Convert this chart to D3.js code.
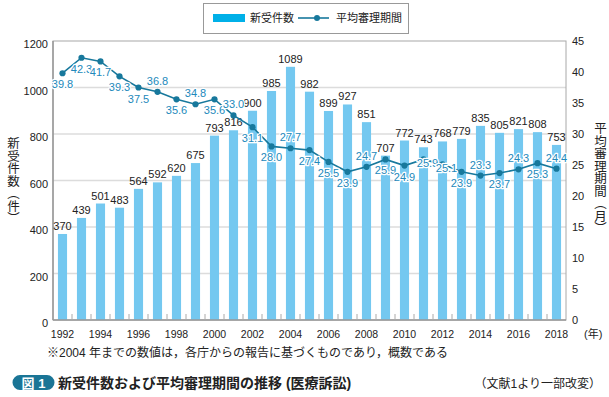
<!DOCTYPE html>
<html>
<head>
<meta charset="utf-8">
<script src="https://cdn.jsdelivr.net/npm/d3@7"></script>
<style>
  body { margin: 0; background: #fff; }
  svg { display: block; font-family: "Liberation Sans", "Noto Sans CJK JP", sans-serif; }
</style>
</head>
<body>
<div id="chart"></div>
<script>
var years = [1992,1993,1994,1995,1996,1997,1998,1999,2000,2001,2002,2003,2004,2005,
             2006,2007,2008,2009,2010,2011,2012,2013,2014,2015,2016,2017,2018];
var cases = [370,439,501,483,564,592,620,675,793,816,900,985,1089,982,
             899,927,851,707,772,743,768,779,835,805,821,808,753];
var months = [39.8,42.3,41.7,39.3,37.5,36.8,35.6,34.8,35.6,33.0,31.1,28.0,27.7,27.4,
              25.5,23.9,24.7,25.9,24.9,25.9,25.1,23.9,23.3,23.7,24.3,25.3,24.4];
// where each period label sits relative to its dot
var labelSide = ["b","b","b","b","b","a","b","a","b","a","b","b","a","b",
                 "b","b","a","b","b","m","m","b","a","b","a","b","a"];
var leftTicks = [0,200,400,600,800,1000,1200];
var rightTicks = [0,5,10,15,20,25,30,35,40,45];
var yearLabels = years.filter(function(y) { return y % 2 === 0; });

var width = 609,
    height = 397;

var barColor = "#74c8f0",
    swatchColor = "#00b0e8",
    lineColor = "#17789c",
    labelColor = "#2289bb";

var svg = d3.select("#chart")
    .append("svg")
    .attr("width", width)
    .attr("height", height);

var plot = { left: 53, right: 566, top: 41, bottom: 320 };

var x = d3.scaleBand()
    .domain(years)
    .range([plot.left, plot.right])
    .paddingInner(0.52)
    .paddingOuter(0.26);

var y = d3.scaleLinear().domain([0, 1200]).range([plot.bottom, plot.top]);
var y2 = d3.scaleLinear().domain([0, 45]).range([plot.bottom, plot.top]);

function cx(d) { return x(d) + x.bandwidth() / 2; }

// grid
svg.append("g")
  .selectAll("line")
    .data(leftTicks.filter(function(t) { return t > 0 && t < 1200; }))
  .enter().append("line")
    .attr("x1", plot.left).attr("x2", plot.right)
    .attr("y1", function(d) { return y(d); })
    .attr("y2", function(d) { return y(d); })
    .attr("stroke", "#dcdcdc")
    .attr("stroke-width", 1.5);

// frame
svg.append("rect")
    .attr("x", plot.left).attr("y", plot.top)
    .attr("width", plot.right - plot.left)
    .attr("height", plot.bottom - plot.top)
    .attr("fill", "none")
    .attr("stroke", "#a8a8a8")
    .attr("stroke-width", 1);

// bars
svg.append("g")
  .selectAll("rect")
    .data(years)
  .enter().append("rect")
    .attr("x", function(d) { return x(d); })
    .attr("width", x.bandwidth())
    .attr("y", function(d, i) { return y(cases[i]); })
    .attr("height", function(d, i) { return plot.bottom - y(cases[i]); })
    .attr("fill", barColor);

// left and bottom axis lines
svg.append("line")
    .attr("x1", plot.left).attr("x2", plot.left)
    .attr("y1", plot.top).attr("y2", plot.bottom)
    .attr("stroke", "#999").attr("stroke-width", 1.5);
svg.append("line")
    .attr("x1", plot.left).attr("x2", plot.right)
    .attr("y1", plot.bottom).attr("y2", plot.bottom)
    .attr("stroke", "#999").attr("stroke-width", 1.5);

// small ticks between bars
svg.append("g")
  .selectAll("line")
    .data(years.slice(0, -1))
  .enter().append("line")
    .attr("x1", function(d) { return cx(d) + x.step() / 2; })
    .attr("x2", function(d) { return cx(d) + x.step() / 2; })
    .attr("y1", plot.bottom - 6).attr("y2", plot.bottom)
    .attr("stroke", "#aaa")
    .attr("stroke-width", 1);

// bar values
svg.append("g")
  .selectAll("text")
    .data(years)
  .enter().append("text")
    .attr("x", function(d) { return cx(d); })
    .attr("y", function(d, i) { return y(cases[i]) - 4; })
    .attr("text-anchor", "middle")
    .attr("font-size", 11)
    .attr("fill", "#222")
    .text(function(d, i) { return cases[i]; });

// line
var line = d3.line()
    .x(function(d, i) { return cx(years[i]); })
    .y(function(d) { return y2(d); });

svg.append("path")
    .datum(months)
    .attr("d", line)
    .attr("fill", "none")
    .attr("stroke", lineColor)
    .attr("stroke-width", 1.6);

svg.append("g")
  .selectAll("circle")
    .data(months)
  .enter().append("circle")
    .attr("cx", function(d, i) { return cx(years[i]); })
    .attr("cy", function(d) { return y2(d); })
    .attr("r", 3.1)
    .attr("fill", lineColor);

var sideOffset = { a: -7, b: 15, m: 8 };
svg.append("g")
  .selectAll("text")
    .data(months)
  .enter().append("text")
    .attr("x", function(d, i) { return cx(years[i]) + (labelSide[i] === "m" ? 4 : 0); })
    .attr("y", function(d, i) { return y2(d) + sideOffset[labelSide[i]]; })
    .attr("text-anchor", "middle")
    .attr("font-size", 11)
    .attr("fill", labelColor)
    .attr("stroke", "#fff")
    .attr("stroke-width", 2.5)
    .attr("stroke-linejoin", "round")
    .attr("paint-order", "stroke")
    .text(function(d) { return d.toFixed(1); });

// left axis labels
svg.append("g")
  .selectAll("text")
    .data(leftTicks)
  .enter().append("text")
    .attr("x", plot.left - 5)
    .attr("y", function(d) { return y(d) + 7; })
    .attr("text-anchor", "end")
    .attr("font-size", 11)
    .attr("fill", "#222")
    .text(function(d) { return d; });

// right axis labels
svg.append("g")
  .selectAll("text")
    .data(rightTicks)
  .enter().append("text")
    .attr("x", plot.right + 6)
    .attr("y", function(d) { return y2(d) + 4; })
    .attr("text-anchor", "start")
    .attr("font-size", 11)
    .attr("fill", "#222")
    .text(function(d) { return d; });

// year labels
svg.append("g")
  .selectAll("text")
    .data(yearLabels)
  .enter().append("text")
    .attr("x", function(d) { return cx(d); })
    .attr("y", 338)
    .attr("text-anchor", "middle")
    .attr("font-size", 10.5)
    .attr("fill", "#222")
    .text(function(d) { return d; });

svg.append("text")
    .attr("x", 584).attr("y", 338)
    .attr("font-size", 11)
    .attr("fill", "#222")
    .text("(年)");

// axis titles (vertical)
svg.append("text")
    .attr("x", 12).attr("y", 137)
    .style("writing-mode", "vertical-rl")
    .attr("font-size", 12.5)
    .attr("fill", "#222")
    .text("新受件数（件）");

svg.append("text")
    .attr("x", 599).attr("y", 122)
    .style("writing-mode", "vertical-rl")
    .attr("font-size", 12.5)
    .attr("fill", "#222")
    .text("平均審理期間（月）");

// legend
var legend = svg.append("g");
legend.append("rect")
    .attr("x", 203.5).attr("y", 3.5)
    .attr("width", 205).attr("height", 30)
    .attr("fill", "#fff")
    .attr("stroke", "#999");
legend.append("rect")
    .attr("x", 213).attr("y", 14)
    .attr("width", 32).attr("height", 8)
    .attr("fill", swatchColor);
legend.append("text")
    .attr("x", 250).attr("y", 22)
    .attr("font-size", 11)
    .attr("fill", "#222")
    .text("新受件数");
legend.append("line")
    .attr("x1", 298).attr("x2", 329)
    .attr("y1", 18).attr("y2", 18)
    .attr("stroke", lineColor)
    .attr("stroke-width", 1.6);
legend.append("circle")
    .attr("cx", 317).attr("cy", 18).attr("r", 3)
    .attr("fill", lineColor);
legend.append("text")
    .attr("x", 336).attr("y", 22)
    .attr("font-size", 11)
    .attr("fill", "#222")
    .text("平均審理期間");

// note
svg.append("text")
    .attr("x", 47).attr("y", 357)
    .attr("font-size", 12)
    .attr("fill", "#222")
    .text("※2004 年までの数値は，各庁からの報告に基づくものであり，概数である");

// caption
svg.append("path")
    .attr("d", "M20,375 H47 A7.5,7.5 0 0 1 54.5,382.5 A7.5,7.5 0 0 1 47,390 H20 A7.5,7.5 0 0 1 12.5,382.5 A7.5,7.5 0 0 1 20,375 Z")
    .attr("fill", "#1a7596");
svg.append("text")
    .attr("x", 33.5).attr("y", 387.5)
    .attr("text-anchor", "middle")
    .attr("font-size", 13)
    .attr("font-weight", "bold")
    .attr("fill", "#fff")
    .text("図 1");
svg.append("text")
    .attr("x", 58).attr("y", 388)
    .attr("font-size", 14)
    .attr("font-weight", "bold")
    .attr("fill", "#222")
    .text("新受件数および平均審理期間の推移 (医療訴訟)");
svg.append("text")
    .attr("x", 601).attr("y", 388)
    .attr("text-anchor", "end")
    .attr("font-size", 12)
    .attr("fill", "#222")
    .text("（文献1より一部改変）");
</script>
</body>
</html>
